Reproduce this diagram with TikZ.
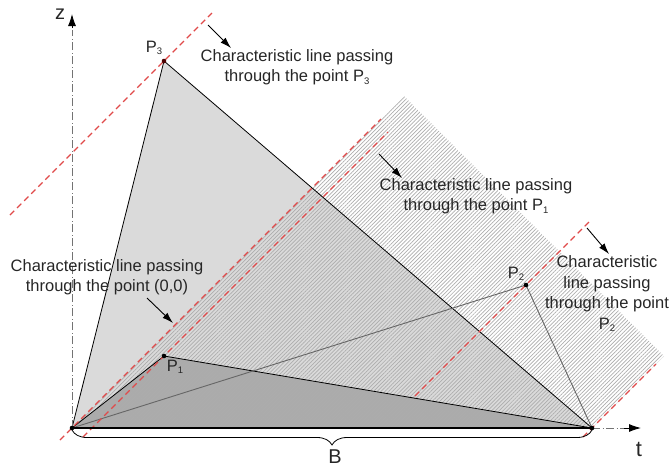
\documentclass[tikz,border=0pt]{standalone}
\usepackage{fontspec}
\setmainfont{Liberation Sans}
\usetikzlibrary{arrows.meta,patterns.meta,decorations.pathreplacing}
\newcommand{\Sb}[1]{\raisebox{-2.5pt}{\fontsize{9.5}{10}\selectfont#1}}
\definecolor{txt}{HTML}{262626}
\definecolor{lightfill}{HTML}{DADADA}
\definecolor{darkfill}{HTML}{ABABAB}
\definecolor{charred}{HTML}{E04A4A}
\tikzset{
  charline/.style={charred, line width=1.1pt, dash pattern=on 6pt off 4pt},
  edge/.style={black, line width=0.8pt},
  greyedge/.style={black!60, line width=0.9pt},
  axisline/.style={black!55, line width=0.9pt, dash pattern=on 8pt off 2.5pt on 1pt off 2.5pt},
  tip/.style={-{Latex[length=12pt,width=8pt]}},
  pointer/.style={black, line width=0.9pt, -{Latex[length=11pt,width=7pt]}},
  lbl/.style={text=txt, font=\fontsize{16.5}{20.5}\selectfont, align=center, inner sep=0pt},
  pt/.style={black, fill=black},
}
\begin{document}
\begin{tikzpicture}[x=1pt,y=-1pt]
\useasboundingbox (0,0) rectangle (672,467);
% key points
\coordinate (O) at (72,428);
\coordinate (E) at (592,428);
\coordinate (P3) at (164,61);
\coordinate (P1) at (164,356);
\coordinate (P2) at (526,285);
\coordinate (A) at (404,96);
\coordinate (B) at (664,356);
% filled triangles
\fill[lightfill] (O) -- (P3) -- (E) -- cycle;
\fill[darkfill] (O) -- (P1) -- (E) -- cycle;
% hatched region
\fill[pattern={Lines[angle=45,distance=2.7pt,line width=0.7pt]}, pattern color=black!32] (O) -- (A) -- (B) -- (E) -- cycle;
% edges
\draw[edge] (O) -- (P3) -- (E);
\draw[edge] (O) -- (P1) -- (E);
\draw[greyedge] (O) -- (P2) -- (E);
% characteristic lines
\coordinate (L3a) at (10,215);  \coordinate (L3b) at (212,13);
\coordinate (L0a) at (60,440);  \coordinate (L0b) at (381,119);
\coordinate (L1a) at (83,437);  \coordinate (L1b) at (388,132);
\coordinate (L2a) at (415,396); \coordinate (L2b) at (590,221);
\coordinate (LEa) at (583,437); \coordinate (LEb) at (656,364);
\draw[charline] (L3a) -- (L3b);
\draw[charline] (L0a) -- (L0b);
\draw[charline] (L1a) -- (L1b);
\draw[charline] (L2a) -- (L2b);
\draw[charline] (LEa) -- (LEb);
% axes
\coordinate (ztip) at (72,14);
\coordinate (ttip) at (641,428);
\draw[axisline] (O) -- (72,30);
\draw[black, tip, line width=0.9pt] (72,28) -- (ztip);
\draw[axisline] (E) -- (626,428);
\draw[black, tip, line width=0.9pt] (624,428) -- (ttip);
\draw[black, line width=2.4pt] (O) -- (E);
\draw[black, line width=0.8pt, decorate, decoration={brace, mirror, amplitude=15pt}] (72,430) -- (592,430);
% points
\fill[pt] (O) circle (2.3pt);
\fill[pt] (E) circle (2.3pt);
\fill[pt] (P1) circle (2.3pt);
\fill[pt] (P2) circle (2.3pt);
\fill[black!70!red] (P3) circle (2.3pt);
% point labels
\node[lbl] (nP3) at (154,48) {P\Sb{3}};
\node[lbl] (nP1) at (175,367) {P\Sb{1}};
\node[lbl] (nP2) at (516,274) {P\Sb{2}};
\node[text=txt, font=\fontsize{20}{20}\selectfont, inner sep=0pt] (nz) at (60,14) {z};
\node[text=txt, font=\fontsize{22}{22}\selectfont, inner sep=0pt] (nt) at (639,449) {t};
\node[text=txt, font=\fontsize{20}{20}\selectfont, inner sep=0pt] (nB) at (335,457) {B};
% texts
\node[lbl] (T3) at (297,67) {Characteristic line passing\\through the point P\Sb{3}};
\node[lbl] (T1) at (476,196) {Characteristic line passing\\through the point P\Sb{1}};
\node[lbl] (T0) at (107,277) {Characteristic line passing\\through the point (0,0)};
\node[lbl] (T2) at (607,294) {Characteristic\\line passing\\through the point\\P\Sb{2}};
% pointers
\coordinate (a3s) at (208,25);  \coordinate (a3e) at (231,48);
\coordinate (a1s) at (379,154); \coordinate (a1e) at (402,178);
\coordinate (a0s) at (147,298); \coordinate (a0e) at (173,323);
\coordinate (a2s) at (587,228); \coordinate (a2e) at (609,254);
\draw[pointer] (a3s) -- (a3e);
\draw[pointer] (a1s) -- (a1e);
\draw[pointer] (a0s) -- (a0e);
\draw[pointer] (a2s) -- (a2e);
\end{tikzpicture}
\end{document}
